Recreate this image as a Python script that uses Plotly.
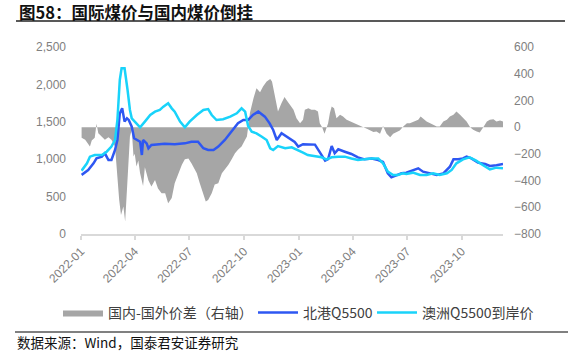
import plotly.graph_objects as go
import pandas as pd

# ---------------- data (days since 2022-01-01, values) ----------------
start_date = "2022-01-01"

gap_days = [1, 7, 15, 18, 23, 26, 29, 35, 40, 46, 51, 57, 60, 64, 67, 71, 74, 77, 79, 82,
            85, 88, 90, 93, 96, 99, 104, 107, 113, 118, 124, 129, 135, 141, 146, 152, 157, 163, 169, 174,
            180, 185, 194, 199, 205, 209, 213, 219, 224, 230, 236, 241, 247, 252, 258, 263, 269, 275, 278, 280,
            283, 289, 294, 300, 305, 311, 317, 320, 325, 330, 336, 341, 344, 350, 356, 361, 367, 372, 375, 381,
            386, 392, 397, 400, 404, 408, 410, 414, 417, 420, 424, 428, 434, 439, 445, 451, 459, 467, 473, 479,
            484, 490, 495, 501, 506, 512, 518, 523, 529, 534, 540, 546, 551, 559, 565, 569, 573, 579, 585, 590,
            596, 601, 607, 613, 618, 624, 629, 635, 640, 646, 652, 657, 663, 668, 674, 680, 685, 691, 696, 702,
            707]
gap_vals = [-80, -95, -145, -100, -80, 25, -45, -70, -95, -75, -95, -145, -345, -545, -657, -595, -707, -470, -245, -70,
            -20, -220, -200, -295, -250, -345, -440, -300, -400, -445, -395, -460, -495, -495, -570, -530, -420, -345, -282, -240,
            -235, -270, -345, -420, -495, -557, -545, -495, -430, -420, -345, -320, -282, -245, -195, -170, -145, -95, -70, 0,
            105, 217, 292, 262, 305, 342, 360, 342, 230, 117, 180, 225, 205, 167, 130, 67, 30, 55, 130, 142,
            130, 130, 117, 30, 0, -50, -25, 30, 105, 155, 142, 67, 92, 80, 55, 42, 30, 10, 0, -12,
            -25, -37, -32, -50, 8, -50, -75, -50, -37, -25, 5, 30, 30, 42, 55, 80, 67, 42, 30, 17,
            5, 5, 42, 55, 80, 92, 117, 92, 67, 42, 0, -20, -32, -40, 0, 42, 55, 60, 42, 50,
            42]

bg_days = [1, 12, 21, 26, 35, 40, 46, 51, 57, 61, 65, 69, 73, 77, 80, 85, 89, 93, 99, 102,
           104, 110, 113, 118, 129, 140, 157, 174, 185, 196, 205, 213, 222, 230, 241, 252, 263, 272, 280, 288,
           297, 308, 316, 322, 328, 336, 344, 353, 358, 364, 372, 392, 400, 409, 414, 420, 425, 431, 442, 453,
           464, 475, 487, 498, 506, 514, 520, 528, 537, 545, 556, 565, 573, 584, 596, 607, 618, 624, 632, 640,
           646, 654, 665, 677, 685, 696, 707]
bg_vals = [790, 856, 945, 1012, 1034, 1079, 989, 989, 1123, 1257, 1613, 1680, 1502, 1547, 1525, 1435, 1280, 1257, 1234, 1056,
           1257, 1212, 1146, 1190, 1200, 1205, 1200, 1212, 1234, 1234, 1146, 1123, 1123, 1168, 1257, 1368, 1480, 1525, 1525, 1591,
           1636, 1569, 1480, 1390, 1257, 1346, 1301, 1260, 1230, 1168, 1200, 1195, 1100, 980, 1000, 1176, 1079, 1132, 1100, 1070,
           1025, 998, 1010, 989, 962, 811, 758, 780, 811, 820, 847, 878, 833, 811, 789, 811, 900, 998, 998, 1010,
           1034, 1010, 954, 935, 909, 920, 935]

au_days = [1, 10, 15, 23, 35, 43, 51, 57, 61, 65, 68, 73, 78, 82, 85, 93, 99, 107, 116, 124,
           132, 138, 146, 152, 157, 166, 174, 182, 194, 205, 213, 219, 227, 238, 250, 261, 269, 275, 280, 286,
           294, 303, 311, 317, 322, 330, 342, 353, 364, 372, 380, 392, 403, 411, 420, 431, 442, 453, 464, 475,
           487, 498, 506, 514, 523, 531, 539, 545, 556, 568, 579, 590, 601, 613, 621, 629, 640, 651, 662, 673,
           685, 696, 707]
au_vals = [847, 945, 1034, 1056, 1056, 1100, 1168, 1257, 1524, 2059, 2215, 2215, 1925, 1658, 1547, 1480, 1426, 1502, 1591, 1636,
           1658, 1702, 1747, 1680, 1636, 1502, 1426, 1502, 1591, 1658, 1670, 1591, 1524, 1535, 1569, 1613, 1680, 1636, 1444, 1368,
           1346, 1301, 1257, 1146, 1123, 1176, 1146, 1159, 1123, 1088, 1056, 1045, 1025, 998, 1025, 1034, 1034, 1010, 989, 998,
           1010, 1010, 945, 833, 789, 789, 811, 802, 820, 789, 789, 811, 789, 811, 856, 945, 998, 1025, 980, 922,
           865, 887, 878]

x_tick_vals = ["2022-01-01", "2022-04-01", "2022-07-01", "2022-10-01",
               "2023-01-01", "2023-04-01", "2023-07-01", "2023-10-01"]
x_tick_text = ["2022-01", "2022-04", "2022-07", "2022-10",
               "2023-01", "2023-04", "2023-07", "2023-10"]
x_range = ["2022-01-01", "2023-12-09"]

names = ["国内-国外价差（右轴）", "北港Q5500", "澳洲Q5500到岸价"]
title_text = "图58：国际煤价与国内煤价倒挂"
source_text = "数据来源：Wind，国泰君安证券研究"

base = pd.Timestamp(start_date)


def to_dates(days):
    return [base + pd.Timedelta(days=d) for d in days]


CJK = "Noto Sans CJK SC"
TICKFONT = dict(family="Liberation Sans, Arial, sans-serif", size=12, color="#808080")
LEGFONT = dict(family=CJK, size=14, color="#404040")

fig = go.Figure()
fig.add_trace(go.Scatter(
    x=to_dates(gap_days), y=gap_vals, name=names[0], yaxis="y", legend="legend",
    mode="lines", fill="tozeroy", line=dict(width=0, color="#A6A6A6"),
    fillcolor="#A6A6A6"))
fig.add_trace(go.Scatter(
    x=to_dates(bg_days), y=bg_vals, name=names[1], yaxis="y2", legend="legend2",
    mode="lines", line=dict(width=2.5, color="#2E57F2")))
fig.add_trace(go.Scatter(
    x=to_dates(au_days), y=au_vals, name=names[2], yaxis="y2", legend="legend3",
    mode="lines", line=dict(width=2.5, color="#19D3FA")))

L, R, T, B = 81, 82, 47, 123
W, H = 585, 357
pw, ph = W - L - R, H - T - B


def px(xp):
    return (xp - L) / pw


def py(yp):
    return (H - B - yp) / ph


def leg(x_left):
    return dict(orientation="h", x=px(x_left), xanchor="left", y=py(313), yanchor="middle",
                font=LEGFONT, bgcolor="rgba(0,0,0,0)", itemwidth=40, borderwidth=0)


fig.update_layout(
    width=W, height=H,
    margin=dict(l=L, r=R, t=T, b=B, autoexpand=False),
    paper_bgcolor="white", plot_bgcolor="white",
    showlegend=True,
    legend=leg(58),
    legend2=leg(253),
    legend3=leg(372),
    xaxis=dict(type="date", range=x_range, tickvals=x_tick_vals, ticktext=x_tick_text,
               tickangle=-45, tickfont=TICKFONT, showgrid=False, zeroline=False,
               showline=True, linecolor="#D9D9D9", linewidth=1.5,
               ticks="outside", ticklen=4, tickcolor="#D9D9D9", tickwidth=1.5),
    yaxis=dict(side="right", range=[-800, 600], dtick=200, tickfont=TICKFONT,
               showgrid=False, zeroline=False, showline=False, ticks="",
               ticklabelstandoff=10),
    yaxis2=dict(side="left", overlaying="y", range=[0, 2500], dtick=500, tickformat=",",
                tickfont=TICKFONT, showgrid=False, zeroline=False, showline=False, ticks="",
                ticklabelstandoff=14),
    shapes=[
        dict(type="line", xref="paper", yref="paper", x0=px(16), x1=px(565), y0=py(21), y1=py(21),
             line=dict(color="#222222", width=1.5)),
        dict(type="line", xref="paper", yref="paper", x0=px(15), x1=px(568), y0=py(332), y1=py(332),
             line=dict(color="#808080", width=2)),
    ],
    annotations=[
        dict(text="<b>" + title_text + "</b>", xref="paper", yref="paper", x=px(17), y=py(12),
             xanchor="left", yanchor="middle", showarrow=False,
             font=dict(family=CJK, size=16.5, color="#111111")),
        dict(text=source_text, xref="paper", yref="paper", x=px(15), y=py(342),
             xanchor="left", yanchor="middle", showarrow=False,
             font=dict(family=CJK, size=13.5, color="#111111")),
    ],
)

fig.write_html("out.html", config={"displayModeBar": False},
               post_script="document.body.style.margin='0';document.body.style.padding='0';")
